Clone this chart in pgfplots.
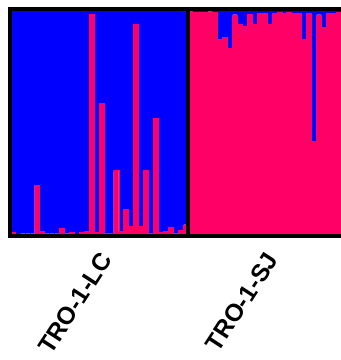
\documentclass[border=0pt]{standalone}
\usepackage{pgfplots}
\usepackage{pgfplotstable}
\pgfplotsset{compat=1.18}
\usepackage{fontspec}
\setmainfont{Liberation Sans}
\definecolor{qblue}{RGB}{0,0,255}
\definecolor{qred}{RGB}{255,0,102}
% individuals 0-35: TRO-1-LC; 36-66: TRO-1-SJ (visible part)
\pgfplotstableread{
x red blue
0 0.018 0.982
1 0.005 0.995
2 0.010 0.990
3 0.010 0.990
4 0.010 0.990
5 0.224 0.776
6 0.020 0.980
7 0.010 0.990
8 0.010 0.990
9 0.010 0.990
10 0.035 0.965
11 0.010 0.990
12 0.015 0.985
13 0.005 0.995
14 0.015 0.985
15 0.020 0.980
16 0.978 0.022
17 0.015 0.985
18 0.584 0.416
19 0.012 0.988
20 0.012 0.988
21 0.288 0.712
22 0.020 0.980
23 0.118 0.882
24 0.044 0.956
25 0.934 0.066
26 0.044 0.956
27 0.288 0.712
28 0.010 0.990
29 0.518 0.482
30 0.015 0.985
31 0.020 0.980
32 0.040 0.960
33 0.010 0.990
34 0.025 0.975
35 0.050 0.950
36 0.988 0.012
37 0.985 0.015
38 0.985 0.015
39 0.985 0.015
40 0.988 0.012
41 0.985 0.015
42 0.865 0.135
43 0.875 0.125
44 0.826 0.174
45 0.975 0.025
46 0.935 0.065
47 0.925 0.075
48 0.978 0.022
49 0.935 0.065
50 0.982 0.018
51 0.982 0.018
52 0.935 0.065
53 0.982 0.018
54 0.985 0.015
55 0.982 0.018
56 0.985 0.015
57 0.982 0.018
58 0.980 0.020
59 0.865 0.135
60 0.982 0.018
61 0.417 0.583
62 0.975 0.025
63 0.920 0.080
64 0.982 0.018
65 0.982 0.018
66 0.985 0.015
}\structuredata
\begin{document}
\begin{tikzpicture}
\useasboundingbox (0,0) rectangle (341pt,360pt);
\begin{axis}[
  at={(10pt,124pt)}, anchor=south west,
  scale only axis, width=331pt, height=227pt,
  xmin=-0.5, xmax=66.5, ymin=0, ymax=1,
  ybar stacked, bar width=1, bar shift=0pt,
  axis line style={draw=none},
  xtick=\empty, ytick=\empty,
  clip=false,
]
\addplot[fill=qred, draw=qred, line width=0.3pt] table[x=x, y=red] {\structuredata};
\addplot[fill=qblue, draw=qblue, line width=0.3pt] table[x=x, y=blue] {\structuredata};
\coordinate (LCbl) at (axis cs:-0.5,0);
\coordinate (LCtr) at (axis cs:35.5,1);
\coordinate (SJbr) at (axis cs:66.5,0);
\coordinate (SJtr) at (axis cs:66.5,1);
\coordinate (LClab) at (axis cs:18,0);
\coordinate (SJlab) at (axis cs:51.6,0);
\end{axis}
\draw[black, line width=3.5pt] (LCbl) rectangle (LCtr);
\draw[black, line width=3.5pt] (LCtr) -- (SJtr);
\draw[black, line width=3.5pt] (LCbl) -- (SJbr);
\node[font=\bfseries\fontsize{24.5}{26}\selectfont, rotate=57, anchor=east, inner sep=0pt]
  at ([xshift=5pt,yshift=-19pt]LClab) {TRO-1-LC};
\node[font=\bfseries\fontsize{24.5}{26}\selectfont, rotate=57, anchor=east, inner sep=0pt]
  at ([xshift=5pt,yshift=-19pt]SJlab) {TRO-1-SJ};
\end{tikzpicture}
\end{document}
